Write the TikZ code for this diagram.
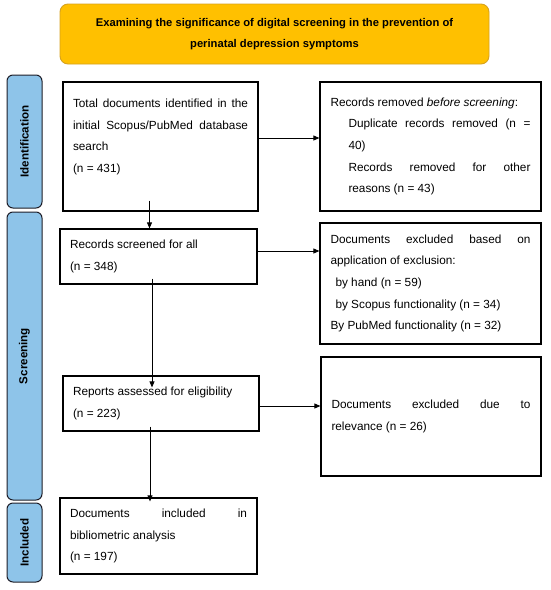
\documentclass[tikz,border=0pt]{standalone}
\usepackage{fontspec}
\setmainfont{Liberation Sans}
\usetikzlibrary{arrows.meta,calc}
\definecolor{hdrfill}{RGB}{255,192,0}
\definecolor{hdrline}{RGB}{214,162,30}
\definecolor{barfill}{RGB}{142,196,233}
\definecolor{barline}{RGB}{30,30,40}
\hbadness=10000
\hyphenpenalty=10000
\exhyphenpenalty=10000
\begin{document}
\begin{tikzpicture}[x=1pt,y=-1pt,
  header/.style={draw=hdrline,line width=0.9pt,fill=hdrfill,rounded corners=8pt,
    minimum width=429pt,minimum height=60pt,align=center,inner sep=0pt,
    font=\fontsize{11.2}{21}\selectfont\bfseries},
  sidebar/.style={draw=barline,line width=1pt,fill=barfill,rounded corners=6pt,
    rotate=90,minimum height=35pt,inner sep=0pt,
    font=\fontsize{11.6}{14}\selectfont\bfseries},
  box/.style={draw=black,line width=1.2pt,inner xsep=10pt,inner ysep=0pt,align=justify,
    font=\fontsize{11.8}{21.7}\selectfont},
  arr/.style={draw=black,line width=0.8pt,-{Triangle[length=6pt,width=5pt]}}
]
\useasboundingbox (0,0) rectangle (550,590);

\node[header] (hdr) at (274.5,34) {Examining the significance of digital screening in the prevention of\\perinatal depression symptoms};

\node[sidebar,minimum width=133pt] (sid) at (24.5,141.5) {Identification};
\node[sidebar,minimum width=288pt] (sscr) at (24.5,356) {Screening};
\node[sidebar,minimum width=79pt] (sinc) at (24.5,542.5) {Included};

\node[box,text width=175pt,minimum width=195pt,minimum height=129pt] (b1) at (160.5,146.5)
  {Total documents identified in the\linebreak initial Scopus/PubMed database\linebreak search\\(n = 431)\\\mbox{}};
\node[box,text width=177pt,minimum width=197pt,minimum height=55pt] (b2) at (158.5,256.5)
  {Records screened for all\\(n = 348)};
\node[box,text width=176pt,minimum width=196pt,minimum height=55pt] (b3) at (161,403.5)
  {Reports assessed for eligibility\\(n = 223)};
\node[box,text width=177pt,minimum width=197pt,minimum height=76pt] (b4) at (158.5,536)
  {Documents included in\linebreak bibliometric analysis\\(n = 197)};

\node[box,text width=200pt,minimum width=221pt,minimum height=129pt] (r1) at (430.5,146.5)
  {Records removed \textit{before screening}:\\
   \hspace*{18pt}Duplicate records removed (n =\linebreak\hspace*{18pt}40)\\
   \hspace*{18pt}Records removed for other\linebreak\hspace*{18pt}reasons (n = 43)};
\node[box,text width=200pt,minimum width=221pt,minimum height=121pt] (r2) at (430.5,283.5)
  {Documents excluded based on\linebreak application of exclusion:\\
   \hspace*{5pt}by hand (n = 59)\\
   \hspace*{5pt}by Scopus functionality (n = 34)\\
   By PubMed functionality (n = 32)};
\node[box,text width=199pt,minimum width=220pt,minimum height=119pt] (r3) at (431,416.5)
  {Documents excluded due to\linebreak relevance (n = 26)};

% horizontal arrows
\draw[arr] ([yshift=8.5pt]b1.east) -- ([yshift=8.5pt]b1.east -| r1.west);
\draw[arr] ([yshift=5.5pt]b2.east) -- ([yshift=5.5pt]b2.east -| r2.west);
\draw[arr] ([yshift=-2.5pt]b3.east) -- ([yshift=-2.5pt]b3.east -| r3.west);

% vertical arrows
\coordinate (v1s) at ([xshift=-11pt,yshift=11pt]b1.south);
\coordinate (v2s) at ([xshift=-6.5pt,yshift=6pt]b2.south);
\coordinate (v2e) at ($(v2s |- b3.north)+(0,12)$);
\coordinate (v3s) at ([xshift=-11pt,yshift=5pt]b3.south);
\coordinate (v3e) at ($(v3s |- b4.north)+(0,4)$);
\draw[arr] (v1s) -- (v1s |- b2.north);
\draw[arr] (v2s) -- (v2e);
\draw[arr] (v3s) -- (v3e);
\end{tikzpicture}
\end{document}
